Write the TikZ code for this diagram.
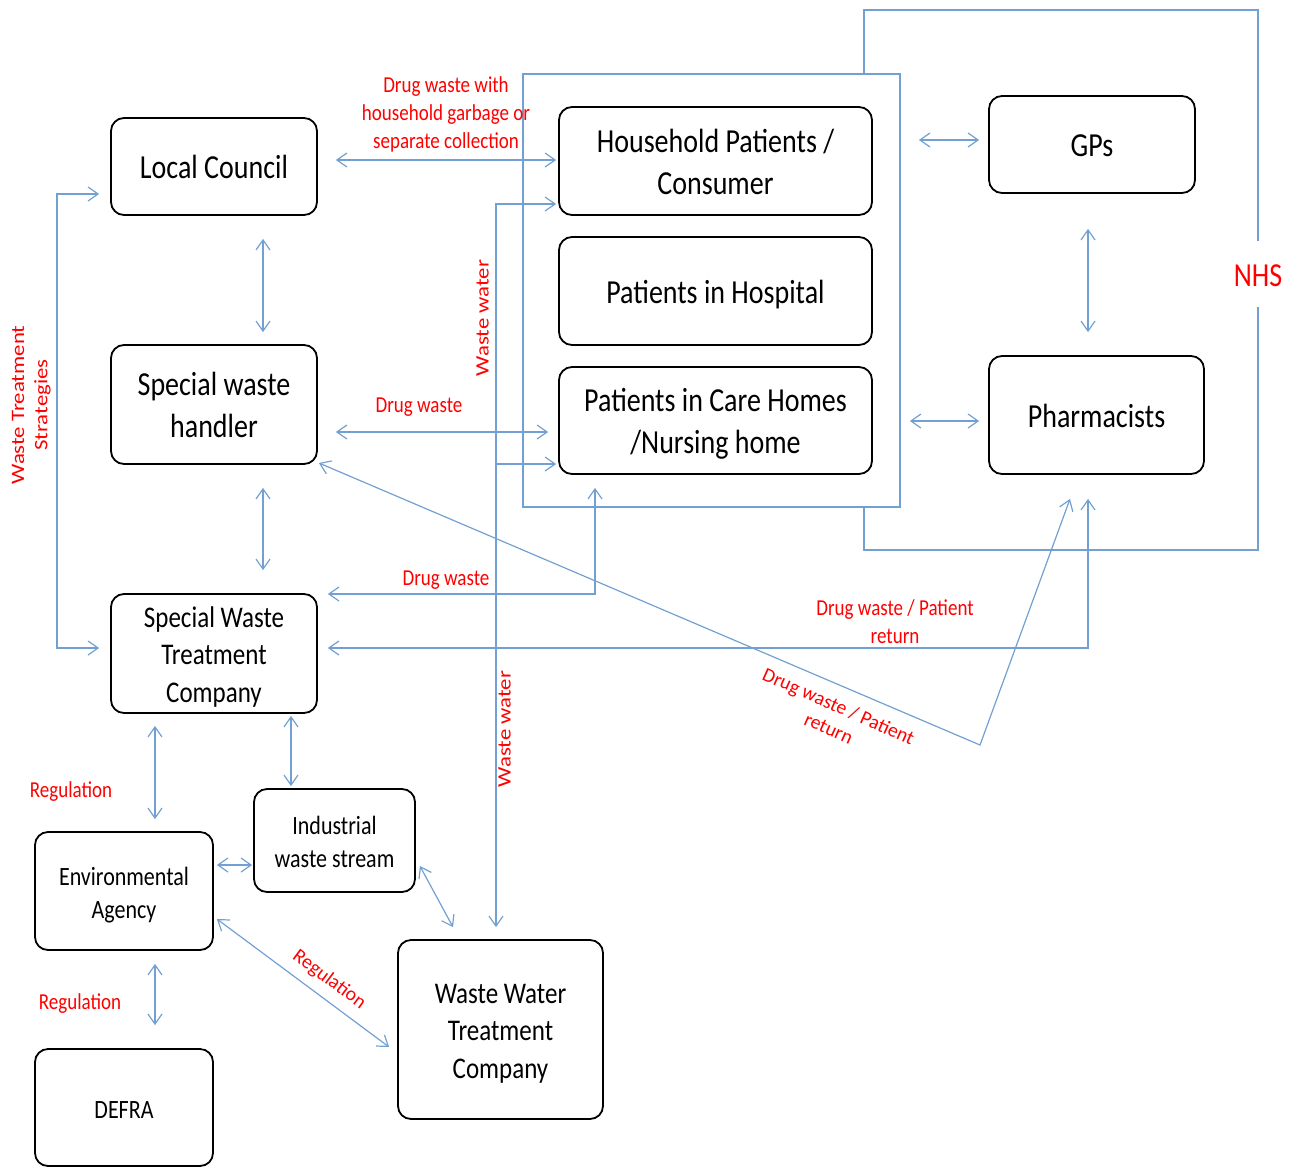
\documentclass[tikz,border=0pt]{standalone}
\usepackage{fontspec}
\setmainfont{Carlito}
\usetikzlibrary{arrows.meta,calc}
\definecolor{flow}{RGB}{115,160,210}
\definecolor{lbl}{RGB}{255,0,0}
% text blocks: upright (taller glyphs), sideways (stretched along the line), slanted
\newcommand{\vtx}[1]{\raisebox{-4pt}[\height][\depth]{\scalebox{1}[1.2]{\begin{tabular}{@{}c@{}}#1\end{tabular}}}}
\newcommand{\vtl}[1]{\raisebox{-2pt}[\height][\depth]{\scalebox{1}[1.2]{\begin{tabular}{@{}c@{}}#1\end{tabular}}}}
\newcommand{\htx}[1]{\scalebox{1.2}[1]{\begin{tabular}{@{}c@{}}#1\end{tabular}}}
\newcommand{\dtx}[1]{\scalebox{1.04}{\begin{tabular}{@{}c@{}}#1\end{tabular}}}
\begin{document}
\begin{tikzpicture}[x=1pt,y=-1pt,
  >={Straight Barb[length=10pt,width=14pt]},
  box/.style={draw=black, line width=1.8pt, rounded corners=13pt, fill=white, inner sep=0pt},
  fa/.style={font=\fontsize{28}{35}\selectfont},
  fb/.style={font=\fontsize{25}{31}\selectfont},
  fc/.style={font=\fontsize{22}{27.5}\selectfont},
  frame/.style={draw=flow, line width=1.3pt},
  conn/.style={draw=flow, line width=1.2pt},
  lab/.style={text=lbl, inner sep=0pt, font=\fontsize{19}{23.3}\selectfont},
]
\useasboundingbox (0,0) rectangle (1300,1167);

% group frames
\draw[frame] (864,10) rectangle (1258,550);
\node[text=lbl, fill=white, inner xsep=3pt, inner ysep=13pt, font=\fontsize{28}{34}\selectfont] (nhs) at (1258,274) {\vtx{NHS}};
\draw[frame, fill=white] (523,74) rectangle (900,507);

% stakeholders
\node[box, fa, minimum width=206pt, minimum height=97pt] (lc) at (214,166.5) {\vtx{Local Council}};
\node[box, fa, minimum width=206pt, minimum height=119pt] (swh) at (214,404.5) {\vtx{Special waste\\handler}};
\node[box, fb, minimum width=206pt, minimum height=119pt] (swtc) at (214,653.5) {\vtx{Special Waste\\Treatment\\Company}};
\node[box, fa, minimum width=313pt, minimum height=108pt] (hh) at (715.5,161) {\vtx{Household Patients /\\Consumer}};
\node[box, fa, minimum width=313pt, minimum height=108pt] (hosp) at (715.5,291) {\vtx{Patients in Hospital}};
\node[box, fa, minimum width=313pt, minimum height=107pt] (care) at (715.5,420.5) {\vtx{Patients in Care Homes\\/Nursing home}};
\node[box, fa, minimum width=206pt, minimum height=97pt] (gps) at (1092,144.5) {\vtx{GPs}};
\node[box, fa, minimum width=215pt, minimum height=118pt] (pharm) at (1096.5,415) {\vtx{Pharmacists}};
\node[box, fc, minimum width=161pt, minimum height=103pt] (ind) at (334.5,840.5) {\vtx{Industrial\\waste stream}};
\node[box, fc, minimum width=178pt, minimum height=118pt] (env) at (124,891) {\vtx{Environmental\\Agency}};
\node[box, fc, minimum width=178pt, minimum height=117pt] (defra) at (124,1107.5) {\vtx{DEFRA}};
\node[box, fb, minimum width=205pt, minimum height=179pt] (wwtc) at (500.5,1029.5) {\vtx{Waste Water\\Treatment\\Company}};

% connector end points
\coordinate (wwtop) at ($(wwtc.north)+(-4.5,-12)$);
\coordinate (carein) at ($(care.west)+(-2,43.5)$);
\coordinate (bend) at (980,745);
\coordinate (wtsx) at (57,0);

% flows
\draw[conn,<->] ($(lc.east)+(18,-6.5)$) -- ($(hh.west)+(-2,-1)$);
\draw[conn,<->] ($(hh.west)+(-2,43)$) -| (wwtop);
\draw[conn,->] (wwtop |- carein) -- (carein);
\draw[conn,<->] ($(swh.east)+(18,27.5)$) -- ($(care.west)+(-10,11.5)$);
\draw[conn,<->] ($(lc.south)+(49,23)$) -- ($(swh.north)+(49,-12)$);
\draw[conn,<->] ($(swh.south)+(49,23)$) -- ($(swtc.north)+(49,-23)$);
\draw[conn,<->] ($(care.south)+(-120.5,13)$) |- ($(swtc.east)+(10,-59.5)$);
\draw[conn,<->] ($(pharm.south)+(-8.5,24)$) |- ($(swtc.east)+(10,-5.5)$);
\draw[conn,<->] ($(swh.east)+(1,58.5)$) -- (bend) -- ($(pharm.south)+(-26.5,24)$);
\draw[conn,<->] ($(hh.east)+(46,-21)$) -- ($(gps.west)+(-9,-4.5)$);
\draw[conn,<->] ($(care.east)+(37,0.5)$) -- ($(pharm.west)+(-9,6)$);
\draw[conn,<->] ($(gps.south)+(-4,35)$) -- ($(pharm.north)+(-8.5,-23)$);
\draw[conn,<->] ($(lc.west)+(-11,27.5)$) coordinate (wtsa) -- (wtsa -| wtsx) |- ($(swtc.west)+(-11,-5.5)$);
\draw[conn,<->] ($(swtc.south)+(-59,12)$) -- ($(env.north)+(31,-12)$);
\draw[conn,<->] ($(swtc.south)+(77,2)$) -- ($(ind.north)+(-43.5,-2)$);
\draw[conn,<->] ($(env.east)+(3,-26)$) -- ($(ind.west)+(-1,24.5)$);
\draw[conn,<->] ($(ind.east)+(4,25.5)$) -- ($(wwtc.north)+(-47.5,-12)$);
\draw[conn,<->] ($(env.east)+(3,28)$) -- ($(wwtc.west)+(-8,17.5)$);
\draw[conn,<->] ($(env.south)+(31,13)$) -- ($(defra.north)+(31,-23)$);

% flow labels
\node[lab] (l1) at (446,113) {\vtl{Drug waste with\\household garbage or\\separate collection}};
\node[lab] (l2) at (419,405) {\vtl{Drug waste}};
\node[lab] (l3) at (446,578) {\vtl{Drug waste}};
\node[lab] (l4) at (895,622) {\vtl{Drug waste / Patient\\return}};
\node[lab, rotate=-24] (l5) at (833,719) {\dtx{Drug waste / Patient\\return}};
\node[lab, rotate=90] (l6) at (484,318) {\htx{Waste water}};
\node[lab, rotate=90] (l7) at (506,729) {\htx{Waste water}};
\node[lab, rotate=90] (l8) at (31,405) {\htx{Waste Treatment\\Strategies}};
\node[lab] (l9) at (71,790) {\vtl{Regulation}};
\node[lab] (l10) at (80,1002) {\vtl{Regulation}};
\node[lab, rotate=-36.5] (l11) at (329,980) {\dtx{Regulation}};
\end{tikzpicture}
\end{document}
